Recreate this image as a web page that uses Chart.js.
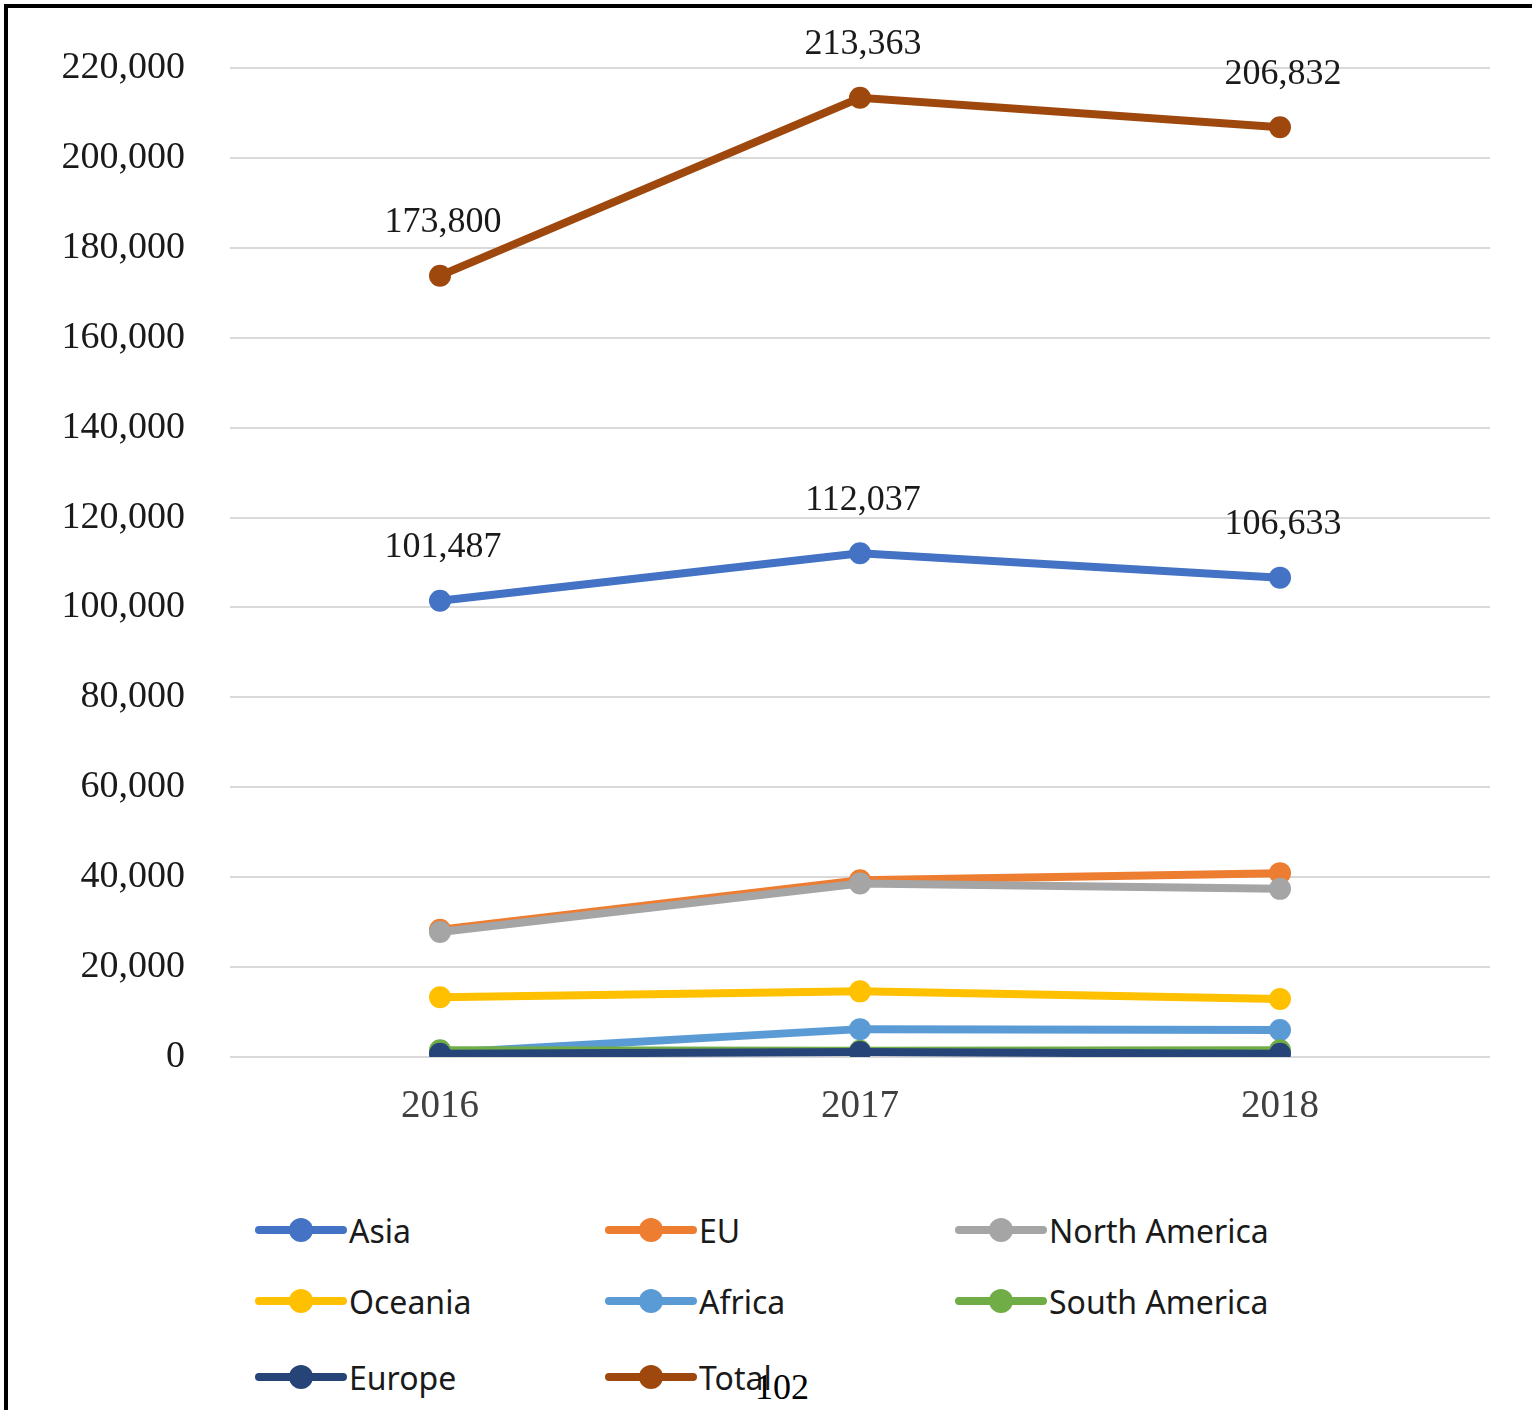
<!DOCTYPE html>
<html lang="en">
  <head>
    <meta charset="UTF-8" />
    <title>Students by region</title>
    <script src="https://cdn.jsdelivr.net/npm/chart.js"></script>
    <style>
      body {
        margin: 0;
        width: 1532px;
        height: 1410px;
        overflow: hidden;
        background: #fff;
        position: relative;
      }
      #frame {
        position: absolute;
        left: 4px;
        top: 4px;
        width: 1524px;
        height: 1420px;
        border-top: 4px solid #000;
        border-left: 4px solid #000;
        border-right: 2px solid #d0d0d0;
      }
      #chartBox {
        position: absolute;
        left: 0;
        top: 0;
        width: 1532px;
        height: 1160px;
      }
      .legend-item {
        position: absolute;
        height: 40px;
        display: flex;
        align-items: center;
        font-family: "Liberation Sans Narrow", "Noto Sans", sans-serif;
        font-size: 32px;
        color: #1a1a1a;
      }
      .legend-item canvas {
        margin-right: 2px;
      }
      #pageNo {
        position: absolute;
        left: 755px;
        top: 1366px;
        font-family: "Liberation Serif", serif;
        font-size: 36px;
        color: #000;
      }
    </style>
  </head>
  <body>
    <div id="frame"></div>
    <div id="chartBox"><canvas id="myChart"></canvas></div>
    <div id="legend"></div>
    <div id="pageNo">102</div>
    <script>
      // data
      const years = ["2016", "2017", "2018"];
      const asia = [101487, 112037, 106633];
      const eu = [28300, 39300, 40900];
      const northAmerica = [27800, 38600, 37400];
      const oceania = [13300, 14600, 12900];
      const africa = [900, 6200, 6000];
      const southAmerica = [1500, 1400, 1500];
      const europe = [700, 1100, 700];
      const total = [173800, 213363, 206832];

      const yTicks = [0, 20000, 40000, 60000, 80000, 100000, 120000, 140000, 160000, 180000, 200000, 220000];

      const seriesNames = ["Asia", "EU", "North America", "Oceania", "Africa", "South America", "Europe", "Total"];
      const seriesValues = [asia, eu, northAmerica, oceania, africa, southAmerica, europe, total];
      const seriesColors = ["#4472C4", "#ED7D31", "#A5A5A5", "#FFC000", "#5B9BD5", "#70AD47", "#264478", "#9E480E"];
      const labelled = ["Asia", "Total"];

      const fmt = (v) => v.toLocaleString("en-US");

      const datasets = seriesNames.map(function (name, i) {
        return {
          label: name,
          data: seriesValues[i],
          borderColor: seriesColors[i],
          backgroundColor: seriesColors[i],
          borderWidth: 8,
          pointRadius: 11,
          pointHoverRadius: 11,
          pointBorderWidth: 0,
          tension: 0,
          order: seriesNames.length - i, // later series drawn on top, like the original
        };
      });

      // value labels above Asia and Total points
      const valueLabels = {
        id: "valueLabels",
        afterDatasetsDraw(chart) {
          const ctx = chart.ctx;
          ctx.save();
          ctx.font = "36px 'Liberation Serif', serif";
          ctx.fillStyle = "#1a1a1a";
          ctx.textAlign = "center";
          ctx.textBaseline = "middle";
          chart.data.datasets.forEach(function (ds, i) {
            if (!labelled.includes(ds.label)) return;
            chart.getDatasetMeta(i).data.forEach(function (pt, j) {
              ctx.fillText(fmt(ds.data[j]), pt.x + 3, pt.y - 53);
            });
          });
          ctx.restore();
        },
      };

      const ctx = document.getElementById("myChart").getContext("2d");
      const myChart = new Chart(ctx, {
        type: "line",
        data: { labels: years, datasets: datasets },
        plugins: [valueLabels],
        options: {
          responsive: true,
          maintainAspectRatio: false,
          animation: false,
          layout: { padding: { left: 0, right: 42, top: 68, bottom: 0 } },
          plugins: {
            legend: { display: false },
            tooltip: { enabled: false },
          },
          scales: {
            x: {
              offset: true,
              grid: { display: false, drawTicks: false },
              border: { display: false },
              ticks: {
                padding: 26,
                color: "#404040",
                font: { family: "'Liberation Serif', serif", size: 39 },
              },
              afterFit: function (scale) {
                scale.height = 103;
              },
            },
            y: {
              min: 0,
              max: 220000,
              afterBuildTicks: function (scale) {
                scale.ticks = yTicks.map((v) => ({ value: v }));
              },
              grid: { color: "#d9d9d9", lineWidth: 2, drawTicks: false },
              border: { display: false },
              ticks: {
                padding: 45,
                color: "#1a1a1a",
                font: { family: "'Liberation Serif', serif", size: 38 },
                callback: (v) => fmt(v),
              },
              afterFit: function (scale) {
                scale.width = 230;
              },
            },
          },
        },
      });

      // legend in three columns, built from the chart's datasets
      const legendCols = [255, 605, 955];
      const legendRows = [1210, 1281, 1357];
      const legendBox = document.getElementById("legend");
      myChart.data.datasets.forEach(function (ds, i) {
        const item = document.createElement("div");
        item.className = "legend-item";
        item.style.left = legendCols[i % 3] + "px";
        item.style.top = legendRows[Math.floor(i / 3)] + "px";
        const sw = document.createElement("canvas");
        sw.width = 92;
        sw.height = 30;
        const c = sw.getContext("2d");
        c.strokeStyle = ds.borderColor;
        c.lineWidth = 8;
        c.lineCap = "round";
        c.beginPath();
        c.moveTo(4, 15);
        c.lineTo(88, 15);
        c.stroke();
        c.fillStyle = ds.borderColor;
        c.beginPath();
        c.arc(46, 15, 12, 0, Math.PI * 2);
        c.fill();
        item.appendChild(sw);
        const txt = document.createElement("span");
        txt.textContent = ds.label;
        item.appendChild(txt);
        legendBox.appendChild(item);
      });
    </script>
  </body>
</html>
